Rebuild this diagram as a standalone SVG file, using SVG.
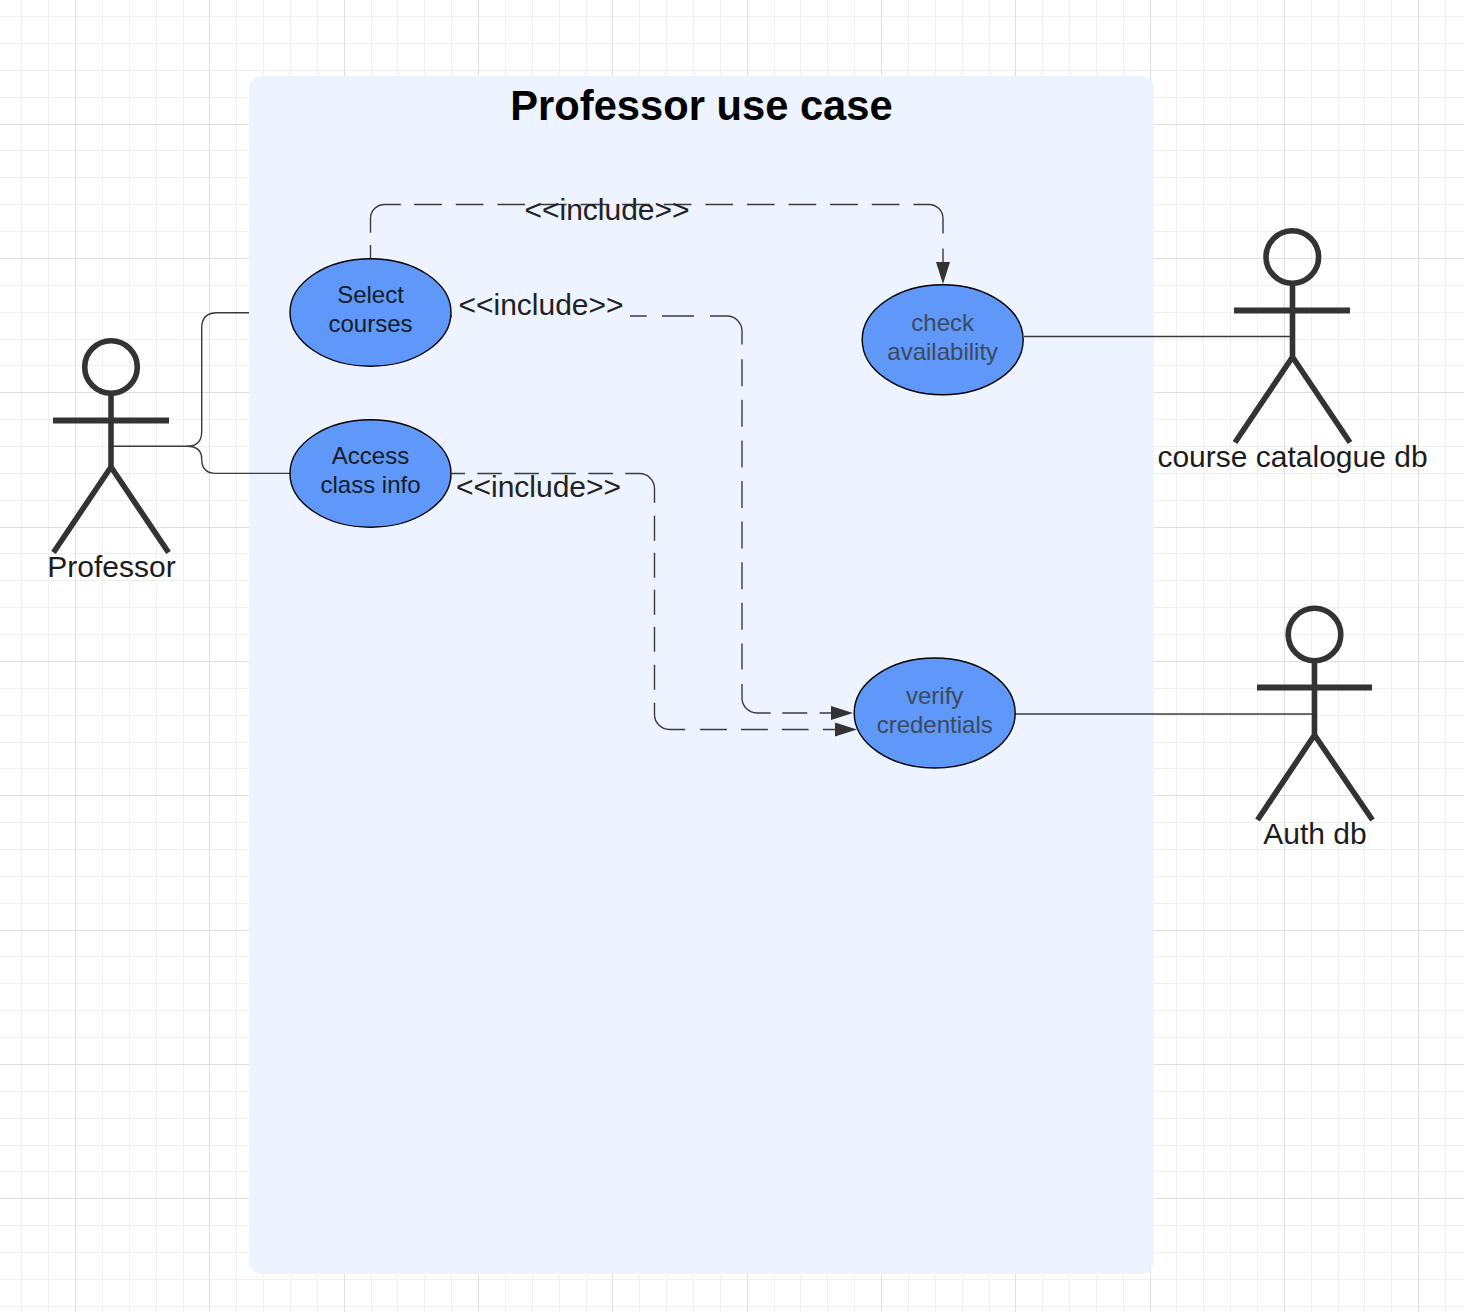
<svg xmlns="http://www.w3.org/2000/svg" width="1464" height="1312" viewBox="0 0 1464 1312">
<style>
text{font-family:"Liberation Sans",Arial,sans-serif;text-anchor:middle}
.uc{font-size:24px}
.uc1{fill:#131d2c}
.uc2{fill:#3a4a60}
.lbl{font-size:30px;fill:#1c1c1c}
.inc{font-size:30px;fill:#222}
.title{font-size:41.7px;font-weight:bold;fill:#000}
.ell{fill:#5f98f8;stroke:#000;stroke-width:1.4}
.act{fill:none;stroke:#333;stroke-width:5.6}
.arm{stroke-width:6}
.cn{fill:none;stroke:#3a3a3a;stroke-width:1.4}
.grid{fill:none;stroke-width:1;shape-rendering:crispEdges}
</style>
<defs>
<marker id="arrow" markerUnits="userSpaceOnUse" viewBox="0 0 22 14" markerWidth="22" markerHeight="14" refX="0" refY="7" orient="auto"><path d="M0 0L22 7L0 14Z" fill="#333"/></marker>
</defs>
<rect width="1464" height="1312" fill="#fff"/>
<path id="grid-minor" class="grid" stroke="#f0f0f0" d="M21.5 0V1312M48.5 0V1312M102.5 0V1312M129.5 0V1312M156.5 0V1312M183.5 0V1312M236.5 0V1312M263.5 0V1312M290.5 0V1312M317.5 0V1312M371.5 0V1312M397.5 0V1312M424.500 0V1312M451.5 0V1312M505.5 0V1312M532.5 0V1312M559.5 0V1312M586.5 0V1312M639.5 0V1312M666.5 0V1312M693.5 0V1312M720.5 0V1312M774.5 0V1312M800.5 0V1312M827.5 0V1312M854.5 0V1312M908.5 0V1312M935.5 0V1312M962.5 0V1312M989.5 0V1312M1042.5 0V1312M1069.5 0V1312M1096.5 0V1312M1123.5 0V1312M1176.5 0V1312M1203.5 0V1312M1230.5 0V1312M1257.5 0V1312M1311.5 0V1312M1338.5 0V1312M1364.5 0V1312M1391.5 0V1312M1445.5 0V1312M0 16.5H1464M0 43.5H1464M0 70.5H1464M0 97.5H1464M0 150.5H1464M0 177.5H1464M0 204.5H1464M0 231.5H1464M0 285.5H1464M0 312.5H1464M0 339.5H1464M0 365.5H1464M0 419.5H1464M0 446.5H1464M0 473.5H1464M0 500.5H1464M0 553.5H1464M0 580.5H1464M0 607.5H1464M0 634.5H1464M0 688.5H1464M0 715.5H1464M0 742.5H1464M0 768.5H1464M0 822.5H1464M0 849.5H1464M0 876.5H1464M0 903.5H1464M0 956.5H1464M0 983.5H1464M0 1010.5H1464M0 1037.5H1464M0 1091.5H1464M0 1118.5H1464M0 1145.5H1464M0 1171.5H1464M0 1225.5H1464M0 1252.5H1464M0 1279.5H1464M0 1306.5H1464"/>
<path id="grid-major" class="grid" stroke="#e0e0e0" d="M75.5 0V1312M209.5 0V1312M344.5 0V1312M478.5 0V1312M612.5 0V1312M747.5 0V1312M881.5 0V1312M1015.5 0V1312M1150.5 0V1312M1284.5 0V1312M1418.5 0V1312M0 124.5H1464M0 258.5H1464M0 392.5H1464M0 527.5H1464M0 661.5H1464M0 795.5H1464M0 930.5H1464M0 1064.5H1464M0 1198.5H1464"/>
<g id="boundary">
<rect x="249" y="76" width="905" height="1198" rx="13" fill="#edf4ff"/>
<text class="title" x="701.5" y="119.5">Professor use case</text>
</g>
<g id="connectors">
<path class="cn" d="M113 446.3H187Q201.7 446.3 201.7 431.6V328Q201.7 312.7 217 312.7H249"/>
<path class="cn" d="M187 446.3Q201.7 446.3 201.7 459Q201.7 473.4 216 473.4H290"/>
<path class="cn" d="M1024 336.5H1292"/>
<path class="cn" d="M1015 714H1314"/>
<path class="cn" marker-end="url(#arrow)" stroke-dasharray="14 12.3 52.4 13.3 27.7 13.9 27.7 13.9 27.7 13.9 27.7 13.9 27.7 13.9 27.7 13.9 27.7 13.9 27.7 13.9 27.7 13.9 27.7 13.9 27.7 13.9 27.7 13.9 52.6 15 14" d="M370.5 259V218.5A14 14 0 0 1 384.5 204.5H929A14 14 0 0 1 943 218.5V262"/>
<path class="cn" marker-end="url(#arrow)" stroke-dasharray="195.7 15.3 32 16 53.9 14.7 27 13.6 27 13.6 27 13.6 27 13.6 27 13.6 27 13.6 27 13.6 26 14.7 50.9 11.7 25 12.3 12" d="M451 316H727A15 15 0 0 1 742 331V698A15 15 0 0 0 757 713H831"/>
<path class="cn" marker-end="url(#arrow)" stroke-dasharray="13.5 12.3 24.6 12.4 24.6 12.4 24.6 12.4 24.6 12.4 51.8 13 25 12 25 12 25 12 25 13 25 13 50.9 15 26.7 14 27 14 26.7 14.3 14" d="M451.5 473.5H639.5A15 15 0 0 1 654.5 488.5V714.5A15 15 0 0 0 669.5 729.5H835"/>
</g>
<g id="uc-select"><ellipse class="ell" cx="370.5" cy="312.5" rx="80.5" ry="53.7"/><text class="uc uc1"><tspan x="370.5" y="303">Select</tspan><tspan x="370.5" y="332">courses</tspan></text></g>
<g id="uc-access"><ellipse class="ell" cx="370.5" cy="473.5" rx="80.5" ry="53.7"/><text class="uc uc1"><tspan x="370.5" y="464">Access</tspan><tspan x="370.5" y="493">class info</tspan></text></g>
<g id="uc-check"><ellipse class="ell" cx="942.7" cy="339.8" rx="80.5" ry="55"/><text class="uc uc2"><tspan x="942.7" y="330.5">check</tspan><tspan x="942.7" y="359.5">availability</tspan></text></g>
<g id="uc-verify"><ellipse class="ell" cx="934.7" cy="713" rx="80.5" ry="55"/><text class="uc uc2"><tspan x="934.7" y="704">verify</tspan><tspan x="934.7" y="733">credentials</tspan></text></g>
<g id="label-include-1"><text class="inc" x="607" y="220">&lt;&lt;include&gt;&gt;</text></g>
<g id="label-include-2"><rect x="452" y="300" width="178" height="22" fill="#edf4ff"/><text class="inc" x="541" y="314.5">&lt;&lt;include&gt;&gt;</text></g>
<g id="label-include-3"><text class="inc" x="538.5" y="496.500">&lt;&lt;include&gt;&gt;</text></g>
<g id="actor-professor">
<circle class="act" cx="111" cy="367" r="26.3"/>
<path class="act" d="M111 393V467L53.5 552.500M111 467L168.5 552.500"/>
<path class="act arm" d="M53 420.500H169"/>
<text class="lbl" x="111.5" y="577">Professor</text>
</g>
<g id="actor-catalogue">
<circle class="act" cx="1292.3" cy="257" r="26.3"/>
<path class="act" d="M1292.5 283V357L1235 442.500M1292.5 357L1350 442.500"/>
<path class="act arm" d="M1234 310.500H1350"/>
<text class="lbl" x="1292.5" y="467">course catalogue db</text>
</g>
<g id="actor-auth">
<circle class="act" cx="1314.5" cy="634.5" r="26.3"/>
<path class="act" d="M1314.5 660.5V735L1257.5 820M1314.5 735L1372.5 820"/>
<path class="act arm" d="M1257 687.5H1372"/>
<text class="lbl" x="1315" y="844">Auth db</text>
</g>
</svg>
